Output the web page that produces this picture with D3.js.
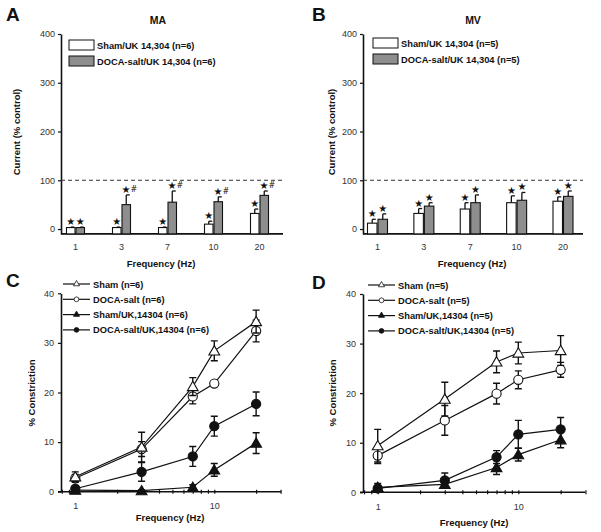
<!DOCTYPE html>
<html>
<head>
<meta charset="utf-8">
<script src="https://cdn.jsdelivr.net/npm/d3@7"></script>
<style>
  body { margin: 0; background: #fff; }
  svg { display: block; font-family: "Liberation Sans", Arial, sans-serif; }
</style>
</head>
<body>
<script>
  // bar panels (A, B)
  var barCats = ['1', '3', '7', '10', '20'];
  var maShamMean = [3, 3, 3, 10, 32];
  var maShamErr = [1, 1, 1, 6, 9];
  var maDocaMean = [3, 50, 55, 56, 69];
  var maDocaErr = [1, 20, 23, 10, 9];
  var maShamMarks = ['★', '★', '★', '★', '★'];
  var maDocaMarks = ['★', '★#', '★#', '★#', '★#'];

  var mvShamMean = [12, 32, 41, 54, 57];
  var mvShamErr = [8, 10, 13, 14, 9];
  var mvDocaMean = [20, 47, 54, 59, 67];
  var mvDocaErr = [11, 7, 16, 16, 11];
  var mvShamMarks = ['★', '★', '★', '★', '★'];
  var mvDocaMarks = ['★', '★', '★', '★', '★'];

  var barTicks = [0, 100, 200, 300, 400];

  // line panels (C, D)
  var freqs = [1, 3, 7, 10, 20];
  var lineTicks = [0, 10, 20, 30, 40];
  var logTicks = [0.8, 0.9, 1, 2, 3, 4, 5, 6, 7, 8, 9, 10, 20, 30];

  var cShamMean = [3.0, 9.0, 21.2, 28.4, 34.3];
  var cShamErr = [1.0, 3.0, 1.8, 2.0, 2.3];
  var cDocaMean = [2.7, 8.6, 19.2, 21.8, 32.4];
  var cDocaErr = [0.8, 1.5, 1.5, 0.4, 2.2];
  var cShamUkMean = [0.3, 0.2, 0.9, 4.4, 9.8];
  var cShamUkErr = [0.3, 0.2, 0.5, 1.3, 2.1];
  var cDocaUkMean = [0.6, 4.0, 7.1, 13.2, 17.7];
  var cDocaUkErr = [0.5, 1.9, 2.0, 2.0, 2.4];
  var cLabels = ['Sham (n=6)', 'DOCA-salt (n=6)', 'Sham/UK,14304 (n=6)', 'DOCA-salt/UK,14304 (n=6)'];

  var dShamMean = [9.4, 18.8, 26.3, 28.1, 28.6];
  var dShamErr = [3.3, 3.4, 2.2, 2.2, 3.0];
  var dDocaMean = [7.4, 14.5, 19.9, 22.7, 24.7];
  var dDocaErr = [1.6, 3.0, 2.1, 1.8, 1.5];
  var dShamUkMean = [1.0, 1.6, 5.0, 7.6, 10.6];
  var dShamUkErr = [0.8, 0.8, 1.4, 1.3, 1.6];
  var dDocaUkMean = [0.8, 2.4, 7.1, 11.7, 12.7];
  var dDocaUkErr = [0.6, 1.5, 1.3, 2.8, 2.4];
  var dLabels = ['Sham (n=5)', 'DOCA-salt (n=5)', 'Sham/UK,14304 (n=5)', 'DOCA-salt/UK,14304 (n=5)'];

  var grey = '#8e8e8e';
  var ink = '#111';

  var svg = d3.select('body').append('svg').attr('width', 601).attr('height', 532);

  function label(g, txt, x, y, size, opts) {
    opts = opts || {};
    return g.append('text')
      .attr('x', x)
      .attr('y', y)
      .attr('font-size', size)
      .attr('font-weight', opts.weight || 'bold')
      .attr('text-anchor', opts.anchor || 'middle')
      .attr('fill', ink)
      .text(txt);
  }

  function barPanel(o) {
    var g = svg.append('g');
    var y = d3.scaleLinear().domain([-10, 400]).range([o.base, o.top]);
    var x = d3.scalePoint().domain(barCats).range([o.c0, o.c1]);
    var bw = o.bw;

    g.append('g')
      .attr('transform', 'translate(' + o.ax + ',0)')
      .call(d3.axisLeft(y).tickValues(barTicks).tickSize(3).tickSizeOuter(0).tickPadding(3))
      .call(s => s.select('.domain').attr('stroke', ink).attr('stroke-width', 1.6))
      .call(s => s.selectAll('.tick line').attr('stroke', ink).attr('stroke-width', 1.2))
      .call(s => s.selectAll('.tick text').attr('font-size', 9).attr('fill', '#333').attr('font-family', null));

    g.append('line')
      .attr('x1', o.ax).attr('x2', o.axEnd)
      .attr('y1', y(-10)).attr('y2', y(-10))
      .attr('stroke', ink).attr('stroke-width', 1.6);

    g.append('line')
      .attr('x1', o.ax).attr('x2', o.axEnd)
      .attr('y1', y(100)).attr('y2', y(100))
      .attr('stroke', '#333').attr('stroke-width', 1)
      .attr('stroke-dasharray', '4,3');

    g.selectAll('.xl').data(barCats).enter().append('text')
      .attr('x', d => x(d))
      .attr('y', y(-10) + 16)
      .attr('font-size', 9)
      .attr('fill', '#333')
      .attr('text-anchor', 'middle')
      .text(d => d);

    var series = [
      { mean: o.shamMean, err: o.shamErr, marks: o.shamMarks, fill: '#fff', off: -bw - 0.5 },
      { mean: o.docaMean, err: o.docaErr, marks: o.docaMarks, fill: grey, off: 0.5 }
    ];

    series.forEach(function(s) {
      var rows = barCats.map((c, i) => ({ c: c, v: s.mean[i], e: s.err[i], m: s.marks[i] }));
      var bx = d => x(d.c) + s.off;

      g.selectAll(null).data(rows).enter().append('line')
        .attr('x1', d => bx(d) + bw / 2).attr('x2', d => bx(d) + bw / 2)
        .attr('y1', d => y(d.v)).attr('y2', d => y(d.v + d.e))
        .attr('stroke', ink).attr('stroke-width', 1.3);
      g.selectAll(null).data(rows).enter().append('line')
        .attr('x1', d => bx(d) + bw / 2).attr('x2', d => bx(d) + bw / 2 + 3.5)
        .attr('y1', d => y(d.v + d.e)).attr('y2', d => y(d.v + d.e))
        .attr('stroke', ink).attr('stroke-width', 1.3);

      g.selectAll(null).data(rows).enter().append('rect')
        .attr('x', bx)
        .attr('y', d => y(d.v))
        .attr('width', bw)
        .attr('height', d => y(-10) - y(d.v))
        .attr('fill', s.fill)
        .attr('stroke', ink)
        .attr('stroke-width', 1.1);

      var t = g.selectAll(null).data(rows).enter().append('text')
        .attr('x', d => bx(d) + bw / 2 + (d.m.length > 1 ? 3 : 0))
        .attr('y', d => y(d.v + d.e) - 2)
        .attr('font-size', 10)
        .attr('font-family', '"DejaVu Sans", sans-serif')
        .attr('text-anchor', 'middle')
        .attr('fill', ink);
      t.append('tspan').text(d => d.m.charAt(0));
      t.append('tspan')
        .attr('font-size', 8)
        .attr('dy', -1)
        .text(d => d.m.slice(1));
    });

    // legend
    var leg = [
      { fill: '#fff', txt: o.legend[0] },
      { fill: grey, txt: o.legend[1] }
    ];
    leg.forEach(function(d, i) {
      g.append('rect')
        .attr('x', o.legX).attr('y', o.legY + i * 16)
        .attr('width', 25).attr('height', 10)
        .attr('fill', d.fill).attr('stroke', ink).attr('stroke-width', 1);
      label(g, d.txt, o.legX + 28, o.legY + i * 16 + 9, 9.3, { anchor: 'start' });
    });

    label(g, o.title, o.titleX, 24, 10.5);
    label(g, o.letter, o.letterX, 21, 19, { anchor: 'start' });
    label(g, 'Frequency (Hz)', o.freqX, 267, 9.5);
    label(g, 'Current (% control)', 0, 0, 9.5)
      .attr('transform', 'translate(' + o.ylabX + ',132) rotate(-90)');
  }

  function shape(type, size) {
    return d3.symbol().type(type === 'tri' ? d3.symbolTriangle : d3.symbolCircle).size(size);
  }

  function linePanel(o) {
    var g = svg.append('g');
    var x = d3.scaleLog().domain(o.xDom).range([o.ax, o.axEnd]);
    var y = d3.scaleLinear().domain([0, 40]).range([o.base, o.top]);

    g.append('g')
      .attr('transform', 'translate(' + o.ax + ',0)')
      .call(d3.axisLeft(y).tickValues(lineTicks).tickSize(3).tickSizeOuter(0).tickPadding(4))
      .call(s => s.select('.domain').attr('stroke', ink).attr('stroke-width', 1.6))
      .call(s => s.selectAll('.tick line').attr('stroke', ink).attr('stroke-width', 1.2))
      .call(s => s.selectAll('.tick text').attr('font-size', 9).attr('fill', '#333').attr('font-family', null));

    g.append('g')
      .attr('transform', 'translate(0,' + o.base + ')')
      .call(d3.axisBottom(x).tickValues(logTicks).tickSize(2).tickSizeOuter(0).tickPadding(9)
        .tickFormat(d => (d === 1 || d === 10 ? d : '')))
      .call(s => s.select('.domain').attr('stroke', ink).attr('stroke-width', 1.6)
        .attr('d', 'M' + (o.ax - 3) + ',0H' + o.axEnd))
      .call(s => s.selectAll('.tick line').attr('y1', -2).attr('stroke', ink).attr('stroke-width', 1.2))
      .call(s => s.selectAll('.tick text').attr('font-size', 9).attr('fill', '#333').attr('font-family', null));

    var series = [
      { mean: o.docaUkMean, err: o.docaUkErr, type: 'circle', fill: ink },
      { mean: o.shamUkMean, err: o.shamUkErr, type: 'tri', fill: ink },
      { mean: o.docaMean, err: o.docaErr, type: 'circle', fill: '#fff' },
      { mean: o.shamMean, err: o.shamErr, type: 'tri', fill: '#fff' }
    ];
    var line = d3.line().x(d => x(d.f)).y(d => y(d.v));

    series.forEach(function(s) {
      var rows = freqs.map((f, i) => ({ f: f, v: s.mean[i], e: s.err[i] }));
      g.append('path').datum(rows)
        .attr('d', line)
        .attr('fill', 'none')
        .attr('stroke', ink)
        .attr('stroke-width', 1.2);
    });

    series.forEach(function(s) {
      var rows = freqs.map((f, i) => ({ f: f, v: s.mean[i], e: s.err[i] }));
      g.selectAll(null).data(rows).enter().append('path')
        .attr('d', d => {
          var cx = x(d.f), hi = y(d.v + d.e), lo = y(Math.max(0, d.v - d.e));
          return 'M' + cx + ',' + hi + 'V' + lo +
            'M' + (cx - 3.5) + ',' + hi + 'H' + (cx + 3.5) +
            'M' + (cx - 3.5) + ',' + lo + 'H' + (cx + 3.5);
        })
        .attr('fill', 'none')
        .attr('stroke', ink)
        .attr('stroke-width', 1.4);
      g.selectAll(null).data(rows).enter().append('path')
        .attr('transform', d => 'translate(' + x(d.f) + ',' + y(d.v) + ')' + (s.type === 'tri' ? ' translate(0,1)' : ''))
        .attr('d', shape(s.type, s.type === 'tri' ? 50 : 66))
        .attr('fill', s.fill)
        .attr('stroke', ink)
        .attr('stroke-width', 1.1);
    });

    // legend
    var leg = [
      { type: 'tri', fill: '#fff' },
      { type: 'circle', fill: '#fff' },
      { type: 'tri', fill: ink },
      { type: 'circle', fill: ink }
    ];
    leg.forEach(function(d, i) {
      var ly = o.legY + i * 15.3;
      g.append('line')
        .attr('x1', o.legX).attr('x2', o.legX + 27)
        .attr('y1', ly).attr('y2', ly)
        .attr('stroke', ink).attr('stroke-width', 1.2);
      g.append('path')
        .attr('transform', 'translate(' + (o.legX + 13.5) + ',' + ly + ')')
        .attr('d', shape(d.type, d.type === 'tri' ? 16 : 18))
        .attr('fill', d.fill)
        .attr('stroke', ink)
        .attr('stroke-width', 0.8);
      label(g, o.labels[i], o.legX + 30, ly + 3.5, 9.3, { anchor: 'start' });
    });

    label(g, o.letter, o.letterX, o.letterY, 19, { anchor: 'start' });
    label(g, 'Frequency (Hz)', o.freqX, o.freqY, 9.5);
    label(g, '% Constriction', 0, 0, 9.5)
      .attr('transform', 'translate(' + o.ylabX + ',393) rotate(-90)');
  }

  barPanel({
    ax: 61, axEnd: 283, base: 233.9, top: 34, c0: 75.5, c1: 259.5, bw: 8.5,
    shamMean: maShamMean, shamErr: maShamErr, shamMarks: maShamMarks,
    docaMean: maDocaMean, docaErr: maDocaErr, docaMarks: maDocaMarks,
    legend: ['Sham/UK 14,304 (n=6)', 'DOCA-salt/UK 14,304 (n=6)'],
    legX: 69, legY: 40, title: 'MA', titleX: 158, letter: 'A', letterX: 6,
    freqX: 161, ylabX: 20
  });

  barPanel({
    ax: 363, axEnd: 583, base: 233.9, top: 34, c0: 377.5, c1: 563, bw: 9.5,
    shamMean: mvShamMean, shamErr: mvShamErr, shamMarks: mvShamMarks,
    docaMean: mvDocaMean, docaErr: mvDocaErr, docaMarks: mvDocaMarks,
    legend: ['Sham/UK 14,304 (n=5)', 'DOCA-salt/UK 14,304 (n=5)'],
    legX: 373, legY: 38, title: 'MV', titleX: 473, letter: 'B', letterX: 312,
    freqX: 472, ylabX: 335
  });

  linePanel({
    ax: 61, axEnd: 281, xDom: [0.789, 30.2], base: 491.7, top: 293.3,
    shamMean: cShamMean, shamErr: cShamErr, docaMean: cDocaMean, docaErr: cDocaErr,
    shamUkMean: cShamUkMean, shamUkErr: cShamUkErr, docaUkMean: cDocaUkMean, docaUkErr: cDocaUkErr,
    labels: cLabels, legX: 63, legY: 284,
    letter: 'C', letterX: 6, letterY: 287, freqX: 170, freqY: 521, ylabX: 35
  });

  linePanel({
    ax: 363, axEnd: 585, xDom: [0.786, 29.8], base: 492.3, top: 294,
    shamMean: dShamMean, shamErr: dShamErr, docaMean: dDocaMean, docaErr: dDocaErr,
    shamUkMean: dShamUkMean, shamUkErr: dShamUkErr, docaUkMean: dDocaUkMean, docaUkErr: dDocaUkErr,
    labels: dLabels, legX: 368, legY: 285,
    letter: 'D', letterX: 312, letterY: 289, freqX: 474, freqY: 526, ylabX: 336
  });
</script>
</body>
</html>
